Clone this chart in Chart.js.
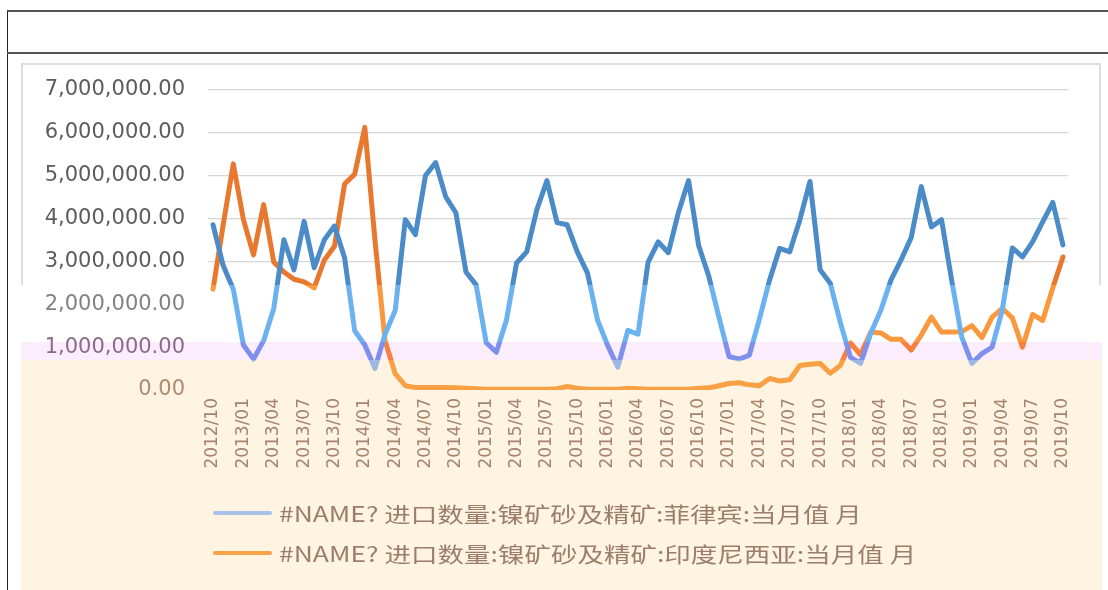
<!DOCTYPE html>
<html>
<head>
<meta charset="utf-8">
<script src="https://cdn.jsdelivr.net/npm/chart.js@4.4.1/dist/chart.umd.min.js"></script>
<style>
  html, body { margin: 0; padding: 0; background: #ffffff; width: 1108px; height: 590px; overflow: hidden; position: relative; }
  #outer { position: absolute; left: 7px; top: 10px; width: 1130px; height: 620px; border-left: 1px solid #222; border-top: 2px solid #555; }
  #hline { position: absolute; left: 7px; top: 52px; width: 1120px; height: 2px; background: #555; }
  #box { position: absolute; left: 21px; top: 63px; width: 1076px; height: 560px; border: 2px solid #dcdcdc; background: #fff; }
  #bands { position: absolute; left: 21px; top: 285px; width: 1081px; height: 320px;
    background: linear-gradient(to bottom, #ffffff 0px, #ffffff 57px, #fcedfc 57px, #fcedfc 75px, #fff4e2 75px, #fff4e2 100%); }
  #wrap { position: absolute; left: 21px; top: 54px; width: 1080px; height: 536px; }
  #legend { position: absolute; left: 0; top: 0; width: 1108px; height: 590px; pointer-events: none; }
  .lrow { position: absolute; left: 213px; height: 30px; }
  .lline { position: absolute; left: 0; width: 59px; height: 4px; border-radius: 2px; }
  .ltext { position: absolute; left: 66px; top: 0; white-space: nowrap; font-family: "Noto Sans CJK SC", "DejaVu Sans", sans-serif; font-size: 21px; line-height: 30px; color: #9c7d6a; transform-origin: 0 50%; }
</style>
</head>
<body>
<div id="outer"></div>
<div id="hline"></div>
<div id="box"></div>
<div id="bands"></div>
<div id="wrap"><canvas id="c" width="1080" height="536"></canvas></div>
<div id="legend"></div>
<script>
// Categories: monthly 2012/10 .. 2019/10
const months = [
  '2012/10','2012/11','2012/12',
  '2013/01','2013/02','2013/03','2013/04','2013/05','2013/06','2013/07','2013/08','2013/09','2013/10','2013/11','2013/12',
  '2014/01','2014/02','2014/03','2014/04','2014/05','2014/06','2014/07','2014/08','2014/09','2014/10','2014/11','2014/12',
  '2015/01','2015/02','2015/03','2015/04','2015/05','2015/06','2015/07','2015/08','2015/09','2015/10','2015/11','2015/12',
  '2016/01','2016/02','2016/03','2016/04','2016/05','2016/06','2016/07','2016/08','2016/09','2016/10','2016/11','2016/12',
  '2017/01','2017/02','2017/03','2017/04','2017/05','2017/06','2017/07','2017/08','2017/09','2017/10','2017/11','2017/12',
  '2018/01','2018/02','2018/03','2018/04','2018/05','2018/06','2018/07','2018/08','2018/09','2018/10','2018/11','2018/12',
  '2019/01','2019/02','2019/03','2019/04','2019/05','2019/06','2019/07','2019/08','2019/09','2019/10'
];

// Series (tonnes)
const philippines = [
  3850000,2900000,2350000,
  1050000,720000,1150000,1900000,3500000,2800000,3930000,2850000,3500000,3820000,3080000,1380000,
  1050000,500000,1300000,1850000,3970000,3620000,5000000,5300000,4500000,4130000,2750000,2450000,
  1100000,880000,1630000,2960000,3220000,4200000,4880000,3900000,3850000,3220000,2730000,1630000,
  1040000,530000,1390000,1300000,2980000,3450000,3200000,4140000,4880000,3360000,2650000,1700000,
  780000,720000,810000,1650000,2560000,3300000,3220000,3970000,4860000,2800000,2490000,1570000,
  760000,620000,1320000,1860000,2560000,3030000,3550000,4740000,3800000,3970000,2560000,1230000,
  620000,850000,1000000,1860000,3310000,3100000,3450000,3920000,4370000,3380000
];
const indonesia = [
  2350000,3850000,5270000,
  3970000,3150000,4320000,2980000,2750000,2580000,2520000,2380000,3030000,3350000,4800000,5030000,
  6120000,3500000,1150000,380000,100000,60000,60000,60000,60000,50000,40000,30000,
  20000,20000,20000,20000,20000,20000,20000,30000,80000,40000,20000,20000,
  20000,20000,40000,30000,20000,20000,20000,20000,20000,40000,50000,100000,
  150000,170000,120000,100000,270000,210000,240000,570000,600000,620000,390000,570000,
  1100000,820000,1350000,1330000,1180000,1180000,930000,1280000,1700000,1350000,1350000,1360000,
  1500000,1220000,1700000,1900000,1680000,1000000,1760000,1620000,2380000,3100000
];
const seriesNames = [
  '#NAME? 进口数量:镍矿砂及精矿:菲律宾:当月值 月',
  '#NAME? 进口数量:镍矿砂及精矿:印度尼西亚:当月值 月'
];
const yTicks = [0,1000000,2000000,3000000,4000000,5000000,6000000,7000000];

const CANVAS_TOP = 54, CANVAS_H = 536;
function bandGradient(chart, cols) {
  const g = chart.ctx.createLinearGradient(0, 0, 0, CANVAS_H);
  const s1 = (285 - CANVAS_TOP) / CANVAS_H, s2 = (342 - CANVAS_TOP) / CANVAS_H, s3 = (360 - CANVAS_TOP) / CANVAS_H;
  g.addColorStop(0, cols[0]); g.addColorStop(s1, cols[0]);
  g.addColorStop(s1, cols[1]); g.addColorStop(s2, cols[1]);
  g.addColorStop(s2, cols[2]); g.addColorStop(s3, cols[2]);
  g.addColorStop(s3, cols[3]); g.addColorStop(1, cols[3]);
  return g;
}
const blueCols = ['#4a8bc8', '#6cb2f0', '#7f90ec', '#9db8e2'];
const orangeCols = ['#e9782f', '#fa983e', '#f6803e', '#f9a045'];

const ctx = document.getElementById('c').getContext('2d');
new Chart(ctx, {
  type: 'line',
  data: {
    labels: months,
    datasets: [
      { label: seriesNames[0], data: philippines,
        borderColor: (c) => bandGradient(c.chart, blueCols),
        borderWidth: 5, pointRadius: 0, tension: 0, borderJoinStyle: 'round', borderCapStyle: 'round', fill: false },
      { label: seriesNames[1], data: indonesia,
        borderColor: (c) => bandGradient(c.chart, orangeCols),
        borderWidth: 5, pointRadius: 0, tension: 0, borderJoinStyle: 'round', borderCapStyle: 'round', fill: false }
    ]
  },
  options: {
    responsive: false,
    animation: false,
    events: [],
    layout: { padding: { left: 0, top: 10, right: 33, bottom: 110 } },
    plugins: { legend: { display: false }, tooltip: { enabled: false } },
    scales: {
      x: {
        offset: true,
        grid: { display: false, drawTicks: false },
        border: { display: false },
        afterFit: (s) => { s.height = 90; },
        ticks: {
          autoSkip: false, minRotation: 90, maxRotation: 90, padding: 8,
          color: '#a4846f',
          font: { family: 'DejaVu Sans', size: 17 },
          callback: function (v, i) { return i % 3 === 0 ? months[i] : ''; }
        }
      },
      y: {
        min: 0, max: 7000000,
        afterFit: (s) => { s.width = 187; },
        afterBuildTicks: (s) => { s.ticks = yTicks.map(v => ({ value: v })); },
        border: { display: false },
        grid: {
          drawTicks: false, lineWidth: 1.3,
          color: (c) => (c.tick && c.tick.value >= 3000000) ? '#d6d6d6' : 'rgba(0,0,0,0)'
        },
        ticks: {
          padding: 23,
          font: { family: 'DejaVu Sans', size: 21 },
          color: (c) => {
            const v = c.tick ? c.tick.value : 0;
            if (v >= 3000000) return '#5c5c5c';
            if (v === 2000000) return '#828282';
            if (v === 1000000) return '#8d6a8c';
            return '#b08a72';
          },
          callback: (v) => Number(v).toLocaleString('en-US', { minimumFractionDigits: 2, maximumFractionDigits: 2 })
        }
      }
    }
  }
});

// HTML legend
const legendEl = document.getElementById('legend');
const legendCols = ['#a7c1e8', '#f8a347'];
const rowsY = [498, 538];
const targetW = [583, 637];
seriesNames.forEach((name, k) => {
  const row = document.createElement('div');
  row.className = 'lrow';
  row.style.top = rowsY[k] + 'px';
  const ln = document.createElement('div');
  ln.className = 'lline';
  ln.style.top = '13px';
  ln.style.background = legendCols[k];
  const tx = document.createElement('span');
  tx.className = 'ltext';
  tx.textContent = name;
  row.appendChild(ln); row.appendChild(tx);
  legendEl.appendChild(row);
  const w = tx.getBoundingClientRect().width;
  if (w > 0) tx.style.transform = 'scaleX(' + (targetW[k] / w).toFixed(3) + ')';
});
</script>
</body>
</html>
